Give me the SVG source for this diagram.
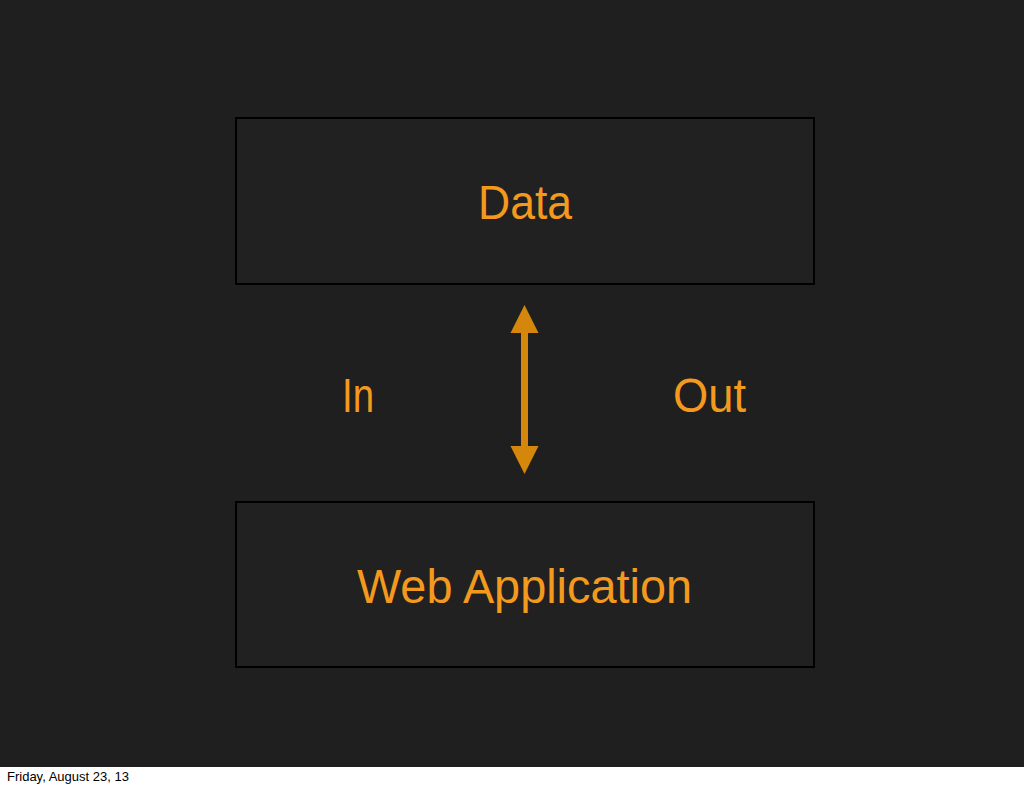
<svg xmlns="http://www.w3.org/2000/svg" width="1024" height="788" viewBox="0 0 1024 788">
<style>
.box{fill:#212121;stroke:#000;stroke-width:2}
.lbl{fill:#f39a1e;font-family:"Liberation Sans",Arial,sans-serif;font-size:48px}
.foot{fill:#000;font-family:"Liberation Sans",Arial,sans-serif;font-size:13px}
</style>
<rect x="0" y="0" width="1024" height="788" fill="#fff"/>
<rect x="0" y="0" width="1024" height="767" fill="#1f1f1f"/>
<g id="node-data">
<rect class="box" x="236" y="118" width="578" height="166"/>
<text class="lbl" x="525" y="219" text-anchor="middle" textLength="94" lengthAdjust="spacingAndGlyphs">Data</text>
</g>
<g id="node-webapp">
<rect class="box" x="236" y="502" width="578" height="165"/>
<text class="lbl" x="524.5" y="603" text-anchor="middle" textLength="335" lengthAdjust="spacingAndGlyphs">Web Application</text>
</g>
<g id="connectors">
<line x1="524.5" y1="330" x2="524.5" y2="450" stroke="#d4870a" stroke-width="7"/>
<polygon points="524.5,305 538.5,333 510.5,333" fill="#d4870a"/>
<polygon points="524.5,474 538.5,446 510.5,446" fill="#d4870a"/>
</g>
<g id="label-in">
<text class="lbl" x="342" y="412" textLength="32" lengthAdjust="spacingAndGlyphs">In</text>
</g>
<g id="label-out">
<text class="lbl" x="673" y="412" textLength="73" lengthAdjust="spacingAndGlyphs">Out</text>
</g>
<text class="foot" x="7" y="781">Friday, August 23, 13</text>
</svg>
